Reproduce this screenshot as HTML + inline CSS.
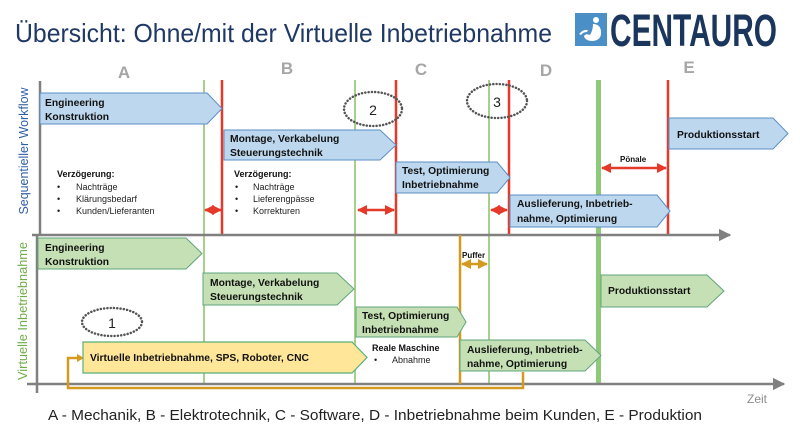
<!DOCTYPE html>
<html><head><meta charset="utf-8"><style>
html,body{margin:0;padding:0;background:#fff;}
svg{display:block;}
text{font-family:"Liberation Sans",sans-serif;}
.b{font-weight:bold;font-size:10.3px;fill:#111;}
.s{font-size:9px;fill:#222;}
.sb{font-size:9px;fill:#111;font-weight:bold;}
.col{font-size:17px;fill:#a6a6a6;font-weight:bold;text-anchor:middle;}
</style></head><body>
<svg width="800" height="447" viewBox="0 0 800 447" xmlns="http://www.w3.org/2000/svg">
<defs>
<marker id="ra" viewBox="0 0 10 10" refX="9" refY="5" markerWidth="4" markerHeight="4" orient="auto-start-reverse"><path d="M0,0 L10,5 L0,10 Z" fill="#e53a2a"/></marker>
<marker id="oa" viewBox="0 0 10 10" refX="9" refY="5" markerWidth="4" markerHeight="4" orient="auto-start-reverse"><path d="M0,0 L10,5 L0,10 Z" fill="#d49a1f"/></marker>
<marker id="ga" viewBox="0 0 10 10" refX="9" refY="5" markerWidth="5" markerHeight="5" orient="auto"><path d="M0,0 L10,5 L0,10 Z" fill="#808080"/></marker>
</defs>

<!-- Title -->
<text x="15" y="42" font-size="26" fill="#1f3864" textLength="537" lengthAdjust="spacingAndGlyphs">Übersicht: Ohne/mit der Virtuelle Inbetriebnahme</text>

<!-- Logo -->
<rect x="575" y="13" width="32" height="33" fill="#4a8fc5"/>
<circle cx="596" cy="20" r="3" fill="#fff"/>
<path d="M593,24 Q600,24 601,31 Q602,40 593,41 Q585,41 584,36 Q586,33 590,35 Q593,30 593,24 Z" fill="#fff"/>
<path d="M579,34 Q583,29 588,30 L587,32 Q583,32 581,35 Z" fill="#fff"/>
<text x="610" y="46" font-size="45" font-weight="bold" fill="#1b365d" textLength="167" lengthAdjust="spacingAndGlyphs">CENTAURO</text>

<!-- Column letters -->
<text x="124" y="78" class="col">A</text>
<text x="287" y="74" class="col">B</text>
<text x="421" y="75" class="col">C</text>
<text x="546" y="76" class="col">D</text>
<text x="689" y="73" class="col">E</text>

<!-- Row labels -->
<text transform="translate(28,151) rotate(-90)" font-size="13" fill="#2e5ea8" text-anchor="middle" textLength="127" lengthAdjust="spacingAndGlyphs">Sequentieller Workflow</text>
<text transform="translate(27,311) rotate(-90)" font-size="13" fill="#70ad47" text-anchor="middle" textLength="138" lengthAdjust="spacingAndGlyphs">Virtuelle Inbetriebnahme</text>

<!-- Vertical lines -->
<g stroke="#a8d08d" stroke-width="2">
<line x1="204" y1="80" x2="204" y2="384"/>
<line x1="355" y1="80" x2="355" y2="384"/>
<line x1="489" y1="80" x2="489" y2="384"/>
</g>
<line x1="598.5" y1="80" x2="598.5" y2="384" stroke="#8fc97a" stroke-width="5"/>
<g stroke="#e53a2a" stroke-width="2.5">
<line x1="222" y1="80" x2="222" y2="235"/>
<line x1="396" y1="80" x2="396" y2="235"/>
<line x1="509" y1="80" x2="509" y2="235"/>
<line x1="668" y1="80" x2="668" y2="235"/>
</g>

<!-- Axes -->
<g stroke="#808080" stroke-width="2.5">
<line x1="40" y1="81" x2="40" y2="236"/>
<line x1="37" y1="234" x2="37" y2="393"/>
</g>
<line x1="32" y1="235" x2="730" y2="235" stroke="#808080" stroke-width="2.5" marker-end="url(#ga)"/>
<line x1="27" y1="384" x2="784" y2="384" stroke="#808080" stroke-width="2.5" marker-end="url(#ga)"/>
<text x="747" y="403" font-size="12" fill="#8c8c8c">Zeit</text>

<!-- Red double arrows -->
<g stroke="#e53a2a" stroke-width="2.5" marker-start="url(#ra)" marker-end="url(#ra)">
<line x1="205" y1="210" x2="221" y2="210"/>
<line x1="358" y1="210" x2="394" y2="210"/>
<line x1="491" y1="210" x2="507" y2="210"/>
<line x1="602" y1="168" x2="666" y2="168"/>
</g>
<text x="620" y="162" font-size="8" font-weight="bold" fill="#111">Pönale</text>

<!-- Dotted ellipses -->
<g fill="none" stroke="#555" stroke-width="2.5" stroke-dasharray="0.1 3.2" stroke-linecap="round">
<ellipse cx="373" cy="109" rx="29" ry="17"/>
<ellipse cx="497" cy="101" rx="30" ry="17"/>
<ellipse cx="112" cy="322" rx="30" ry="14"/>
</g>
<text x="373" y="115" font-size="14" text-anchor="middle" fill="#222">2</text>
<text x="497" y="107" font-size="14" text-anchor="middle" fill="#222">3</text>
<text x="112" y="328" font-size="14" text-anchor="middle" fill="#222">1</text>

<!-- Top blue arrows -->
<g fill="#bdd7ee" stroke="#5b8fc7" stroke-width="1">
<path d="M40,93 H207 L222,108.5 L207,124 H40 Z"/>
<path d="M224,130 H380 L396,145 L380,160 H224 Z"/>
<path d="M396,162 H497 L510,177.5 L497,193 H396 Z"/>
<path d="M510,195 H657 L670,211 L657,227 H510 Z"/>
<path d="M669,118 H773 L788,133.5 L773,149 H669 Z"/>
</g>
<text x="45" y="106" class="b">Engineering</text>
<text x="45" y="120" class="b">Konstruktion</text>
<text x="230" y="142" class="b">Montage, Verkabelung</text>
<text x="230" y="156" class="b">Steuerungstechnik</text>
<text x="402" y="174" class="b">Test, Optimierung</text>
<text x="402" y="188" class="b">Inbetriebnahme</text>
<text x="517" y="207" class="b">Auslieferung, Inbetrieb-</text>
<text x="517" y="222" class="b">nahme, Optimierung</text>
<text x="677" y="138" class="b">Produktionsstart</text>

<!-- Verzögerung blocks -->
<text x="57" y="177" class="sb">Verzögerung:</text>
<text x="57" y="190" class="s">•</text><text x="76" y="190" class="s">Nachträge</text>
<text x="57" y="202" class="s">•</text><text x="76" y="202" class="s">Klärungsbedarf</text>
<text x="57" y="214" class="s">•</text><text x="76" y="214" class="s">Kunden/Lieferanten</text>
<text x="234" y="177" class="sb">Verzögerung:</text>
<text x="235" y="190" class="s">•</text><text x="253" y="190" class="s">Nachträge</text>
<text x="235" y="202" class="s">•</text><text x="253" y="202" class="s">Lieferengpässe</text>
<text x="235" y="214" class="s">•</text><text x="253" y="214" class="s">Korrekturen</text>

<!-- Orange connectors -->
<g fill="none" stroke="#d49a1f" stroke-width="2.5">
<polyline points="523,372 523,388 68,388 68,358 79,358"/>
<line x1="460" y1="235" x2="460" y2="384"/>
</g>
<path d="M77,354 L84,358 L77,362 Z" fill="#d49a1f"/>
<line x1="462" y1="264" x2="487" y2="264" stroke="#d49a1f" stroke-width="2.5" marker-start="url(#oa)" marker-end="url(#oa)"/>
<text x="462" y="258" font-size="8" font-weight="bold" fill="#111">Puffer</text>

<!-- Bottom green arrows -->
<g fill="#c5e0b4" stroke="#5fa57a" stroke-width="1">
<path d="M38,238 H186 L202,253.5 L186,269 H38 Z"/>
<path d="M203,273 H337 L354,289 L337,305 H203 Z"/>
<path d="M356,307 H457 L466,322 L457,337 H356 Z"/>
<path d="M460,340 H585 L601,355.5 L585,371 H460 Z"/>
<path d="M601,275 H707 L724,291 L707,307 H601 Z"/>
</g>
<path d="M83,342 H352 L367,357.5 L352,373 H83 Z" fill="#ffe699" stroke="#58b07a" stroke-width="1.2"/>
<text x="45" y="251" class="b">Engineering</text>
<text x="45" y="265" class="b">Konstruktion</text>
<text x="210" y="286" class="b">Montage, Verkabelung</text>
<text x="210" y="300" class="b">Steuerungstechnik</text>
<text x="362" y="319" class="b">Test, Optimierung</text>
<text x="362" y="333" class="b">Inbetriebnahme</text>
<text x="467" y="353" class="b">Auslieferung, Inbetrieb-</text>
<text x="467" y="367" class="b">nahme, Optimierung</text>
<text x="608" y="294" class="b">Produktionsstart</text>
<text x="90" y="361" class="b">Virtuelle Inbetriebnahme, SPS, Roboter, CNC</text>

<text x="372" y="351" class="sb">Reale Maschine</text>
<text x="374" y="363" class="s">•</text><text x="392" y="363" class="s">Abnahme</text>

<!-- Caption -->
<text x="48" y="420" font-size="15" fill="#222" textLength="654" lengthAdjust="spacingAndGlyphs">A - Mechanik, B - Elektrotechnik, C - Software, D - Inbetriebnahme beim Kunden, E - Produktion</text>
</svg>
</body></html>
